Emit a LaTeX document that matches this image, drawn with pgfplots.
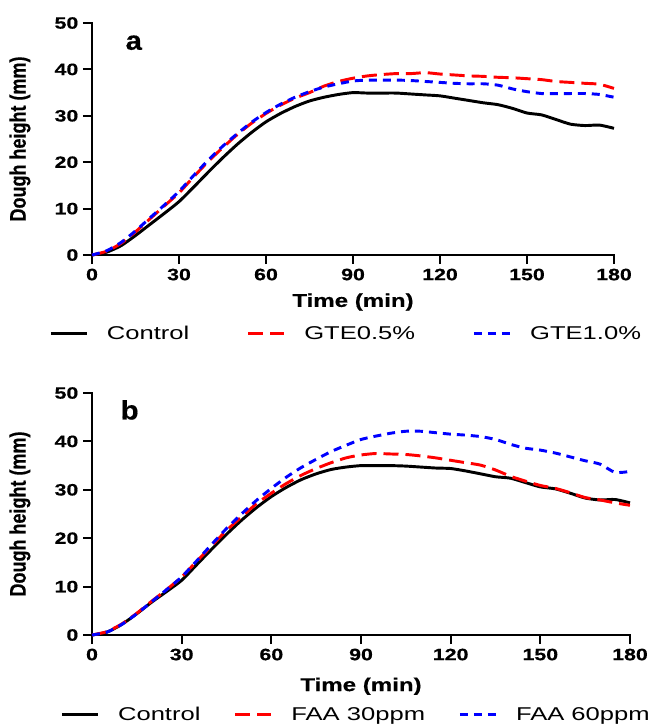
\documentclass[border=0pt]{standalone}
\usepackage{pgfplots}
\pgfplotsset{compat=1.18}
\usepackage{pgfplotstable}
\usepackage{fontspec}
\setmainfont{Liberation Sans}
\newfontfamily\tickf{Liberation Sans}[FakeStretch=1.3, FakeBold=0.6]
\newfontfamily\labf{Liberation Sans}[FakeStretch=1.3, FakeBold=0.4]
\newfontfamily\legf{Liberation Sans}[FakeStretch=1.38]
\newfontfamily\letf{Liberation Sans}[FakeStretch=1.1, FakeBold=0.4]
\newfontfamily\ylabf{Liberation Sans}[FakeBold=0.4]

\definecolor{cred}{RGB}{255,0,0}
\definecolor{cblue}{RGB}{0,0,255}

\pgfplotstableread{
t ctrl gteA gteB
0 0 0 0
5 0.6 0.8 0.9
10 2.0 2.5 2.7
15 4.2 5.0 5.2
20 6.6 7.8 8.0
25 9.0 10.6 10.8
30 11.5 13.4 13.7
35 14.6 16.8 17.1
40 17.8 20.1 20.4
45 20.9 23.1 23.4
50 23.8 25.9 26.1
55 26.4 28.4 28.6
60 28.7 30.5 30.7
65 30.5 32.3 32.5
70 32.0 33.8 34.0
75 33.2 35.0 35.2
80 34.0 36.4 36.2
85 34.6 37.4 36.9
90 35.0 38.1 37.5
95 34.9 38.6 37.7
100 34.9 38.9 37.7
105 34.9 39.1 37.7
110 34.7 39.1 37.6
115 34.5 39.3 37.4
120 34.3 39.0 37.2
125 33.8 38.8 37.0
130 33.3 38.6 36.9
135 32.8 38.5 36.9
140 32.4 38.3 36.6
145 31.6 38.2 35.8
150 30.6 38.0 35.2
155 30.2 37.8 34.8
160 29.2 37.4 34.8
165 28.2 37.2 34.8
170 27.9 37.0 34.8
175 28.0 36.8 34.6
180 27.3 35.9 34.0
}\tabA

\pgfplotstableread{
t ctrl faaA faaB
0 0 0 0
5 0.6 0.7 0.6
10 2.2 2.3 2.2
15 4.4 4.5 4.4
20 6.8 7.0 6.9
25 9.0 9.4 9.4
30 11.3 12.0 12.0
35 14.5 15.2 15.3
40 17.7 18.4 18.7
45 20.8 21.6 22.0
50 23.7 24.4 25.0
55 26.3 27.1 27.8
60 28.6 29.3 30.3
65 30.5 31.3 32.6
70 32.1 33.0 34.6
75 33.3 34.4 36.3
80 34.2 35.6 37.9
85 34.7 36.6 39.2
90 35.0 37.2 40.4
95 35.0 37.5 41.1
100 35.0 37.4 41.7
105 34.9 37.3 42.1
110 34.7 37.0 42.1
115 34.5 36.6 41.8
120 34.4 36.1 41.5
125 33.9 35.6 41.3
130 33.3 35.1 41.0
135 32.7 34.1 40.4
140 32.4 32.8 39.4
145 31.5 31.8 38.6
150 30.6 30.9 38.2
155 30.2 30.3 37.6
160 29.3 29.4 36.8
165 28.3 28.4 36.0
170 27.9 27.9 35.3
175 28.0 27.3 33.6
180 27.3 26.8 33.8
}\tabB

\pgfplotsset{
  myaxis/.style={
    scale only axis,
    anchor=south west,
    axis lines=left,
    axis line style={-, line width=1.6pt, line cap=rect},
    xmin=0, xmax=180, ymin=0, ymax=50,
    xtick={0,30,...,180}, ytick={0,10,...,50},
    tick align=outside,
    major tick length=6.75pt,
    tick style={line width=1.6pt, black},
    tick label style={font=\tickf\bfseries\fontsize{12.3}{14}\selectfont},
    /pgf/number format/assume math mode=true,
    xlabel={Time (min)},
    ylabel={\scalebox{1}[1.25]{Dough height (mm)}},
    xlabel style={font=\labf\bfseries\fontsize{13.9}{16}\selectfont},
    ylabel style={font=\ylabf\bfseries\fontsize{13.5}{16}\selectfont},
    clip=false,
    legend columns=3,
    legend style={draw=none, fill=none, inner sep=0pt,
      font=\legf\fontsize{13.9}{16}\selectfont,
      /tikz/every odd column/.append style={column sep=14pt},
      nodes={inner sep=0pt, anchor=west}},
    legend image code/.code={\draw[#1] (0pt,0pt) -- (27pt,0pt);},
  },
  ctrl/.style={black, line width=2.2pt, solid, smooth, tension=0.4},
  red/.style={cred, line width=2.2pt, dash pattern=on 11.25pt off 5.25pt, smooth, tension=0.4},
  blue/.style={cblue, line width=2.2pt, dash pattern=on 6pt off 4.5pt, smooth, tension=0.4},
}

\begin{document}
\begin{tikzpicture}
\useasboundingbox (0,0) rectangle (486.75pt,-546pt);
\begin{axis}[myaxis, at={(69pt,-191.25pt)}, width=391.5pt, height=174pt,
  ylabel style={at={(axis description cs:-0.138,0.5)}, anchor=center},
  xlabel style={at={(axis description cs:0.5,-0.203)}, anchor=center},
  legend style={at={(0.485,-0.34)}, anchor=center,
    /tikz/every even column/.append style={column sep=43pt}}]
\addplot[ctrl] table[x=t, y=ctrl] {\tabA};
\addplot[red] table[x=t, y=gteA] {\tabA};
\addplot[blue] table[x=t, y=gteB] {\tabA};
\legend{Control, GTE0.5\%, GTE1.0\%}
\node[font=\letf\bfseries\fontsize{20}{22}\selectfont] at (rel axis cs:0.08,0.915) {a};
\end{axis}
\begin{axis}[myaxis, at={(69pt,-476.25pt)}, width=403.5pt, height=181.5pt,
  ylabel style={at={(axis description cs:-0.134,0.5)}, anchor=center},
  xlabel style={at={(axis description cs:0.5,-0.212)}, anchor=center},
  legend style={at={(0.489,-0.33)}, anchor=center,
    /tikz/every even column/.append style={column sep=25pt}}]
\addplot[ctrl] table[x=t, y=ctrl] {\tabB};
\addplot[red] table[x=t, y=faaA] {\tabB};
\addplot[blue] table[x=t, y=faaB] {\tabB};
\legend{Control, FAA 30ppm, FAA 60ppm}
\node[font=\letf\bfseries\fontsize{20}{22}\selectfont] at (rel axis cs:0.07,0.93) {b};
\end{axis}
\end{tikzpicture}
\end{document}
